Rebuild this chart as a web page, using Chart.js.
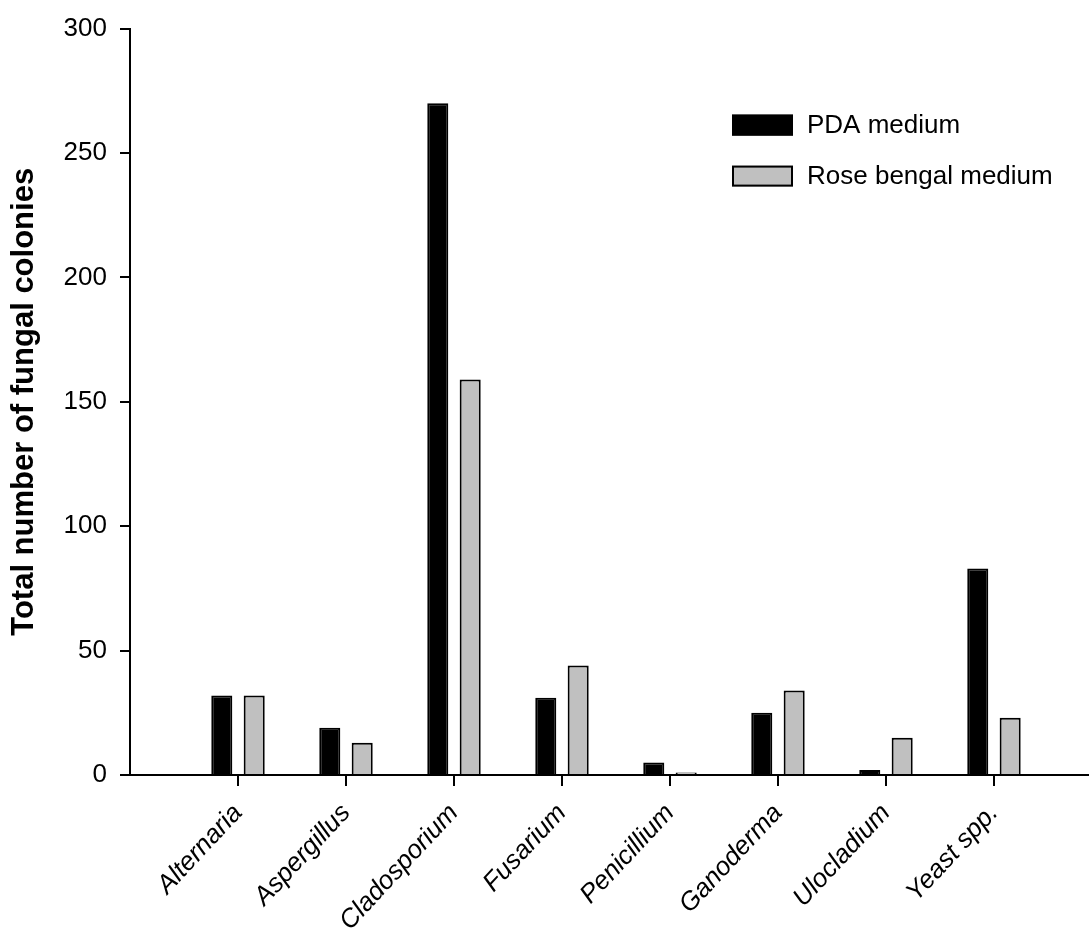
<!DOCTYPE html>
<html>
<head>
<meta charset="utf-8">
<script src="https://cdn.jsdelivr.net/npm/chart.js@4.4.0/dist/chart.umd.min.js"></script>
<style>
  html, body { margin: 0; padding: 0; background: #fff; }
  #wrap { width: 1089px; height: 938px; }
</style>
</head>
<body>
<div id="wrap"><canvas id="myChart"></canvas></div>
<script>
const categories = ['Alternaria', 'Aspergillus', 'Cladosporium', 'Fusarium', 'Penicillium', 'Ganoderma', 'Ulocladium', 'Yeast spp.'];
const pdaValues  = [32, 19, 270, 31, 5, 25, 2, 83];
const roseValues = [32, 13, 159, 44, 1, 34, 15, 23];
const yTicks     = [0, 50, 100, 150, 200, 250, 300];

const FONT = "'Liberation Sans', Arial, sans-serif";
Chart.defaults.color = '#000';
Chart.defaults.font.family = FONT;

const toPoints = function (vals) {
	return vals.map(function (v, i) { return { x: i + 1, y: v }; });
};

// legend sits inside the plot, top right, one entry per row
const boxLegend = {
	id: 'boxLegend',
	afterDraw: function (chart) {
		const ctx = chart.ctx;
		const area = chart.chartArea;
		const x0 = area.right - 357;
		let y0 = area.top + 86;
		ctx.save();
		ctx.font = '26px ' + FONT;
		ctx.textBaseline = 'middle';
		ctx.textAlign = 'left';
		chart.data.datasets.forEach(function (ds) {
			ctx.fillStyle = ds.backgroundColor;
			ctx.fillRect(x0, y0, 61, 21);
			ctx.lineWidth = 2;
			ctx.strokeStyle = '#000';
			ctx.strokeRect(x0 + 1, y0 + 1, 59, 19);
			ctx.fillStyle = '#000';
			ctx.fillText(ds.label, x0 + 75, y0 + 11);
			y0 += 51;
		});
		ctx.restore();
	}
};

const ctx = document.getElementById('myChart').getContext('2d');
const myChart = new Chart(ctx, {
	type: 'bar',
	data: {
		datasets: [{
			label: 'PDA medium',
			data: toPoints(pdaValues),
			backgroundColor: '#000000',
			borderColor: '#000000',
			borderWidth: 2
		}, {
			label: 'Rose bengal medium',
			data: toPoints(roseValues),
			backgroundColor: '#c0c0c0',
			borderColor: '#000000',
			borderWidth: 2
		}]
	},
	options: {
		responsive: true,
		maintainAspectRatio: false,
		animation: false,
		categoryPercentage: 0.6,
		barPercentage: 0.65,
		layout: { padding: { top: 26, right: 0, left: 0, bottom: 0 } },
		plugins: {
			legend: { display: false },
			tooltip: { enabled: false }
		},
		scales: {
			x: {
				type: 'linear',
				min: 0,
				max: 8.88,
				offset: false,
				afterFit: function (scale) { scale.height = 163; },
				afterBuildTicks: function (scale) {
					scale.ticks = categories.map(function (c, i) { return { value: i + 1 }; });
				},
				border: { color: '#000', width: 2 },
				grid: { offset: false, drawOnChartArea: false, color: '#000', lineWidth: 2, tickLength: 11 },
				ticks: {
					autoSkip: false,
					minRotation: 47,
					maxRotation: 47,
					padding: 12,
					font: { size: 26, style: 'italic' },
					callback: function (value) { return categories[value - 1]; }
				}
			},
			y: {
				min: 0,
				max: 300,
				afterFit: function (scale) { scale.width = 130; },
				afterBuildTicks: function (scale) {
					scale.ticks = yTicks.map(function (v) { return { value: v }; });
				},
				border: { color: '#000', width: 2 },
				grid: { drawOnChartArea: false, color: '#000', lineWidth: 2, tickLength: 10 },
				ticks: { padding: 13, font: { size: 26 } },
				title: {
					display: true,
					text: 'Total number of fungal colonies',
					font: { size: 31, weight: 'bold' },
					padding: { top: 6, bottom: 0 }
				}
			}
		}
	},
	plugins: [boxLegend]
});
</script>
</body>
</html>
